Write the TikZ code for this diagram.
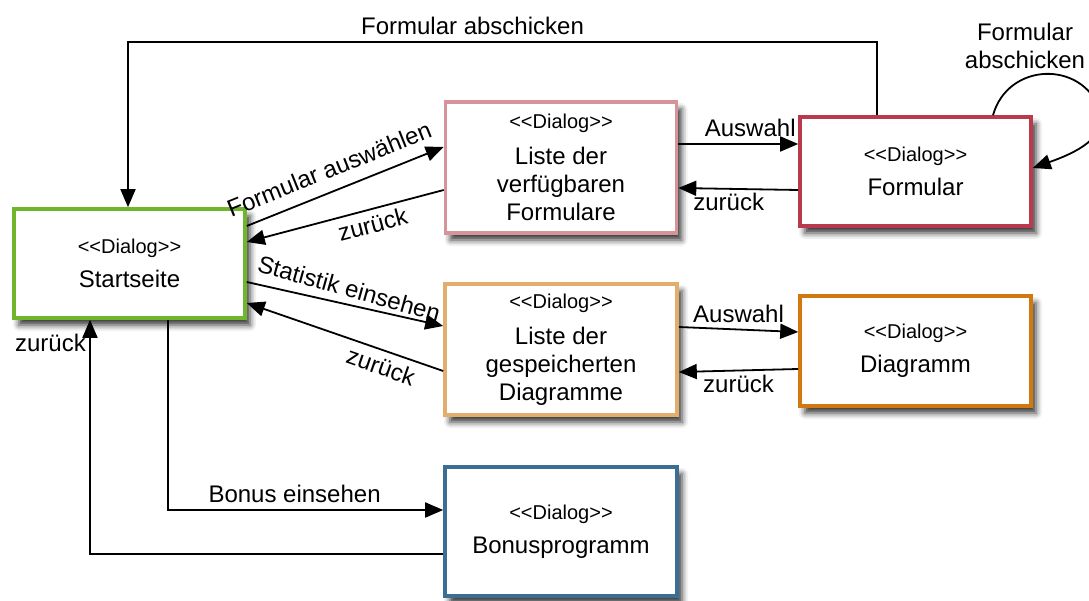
\documentclass[tikz,border=0pt]{standalone}
\usepackage{fontspec}
\setmainfont{Liberation Sans}
\usetikzlibrary{arrows.meta,shadows.blur}

\definecolor{cStart}{HTML}{70B62C}
\definecolor{cListF}{HTML}{D6939A}
\definecolor{cForm}{HTML}{B93A4C}
\definecolor{cListD}{HTML}{E2AE6E}
\definecolor{cDiag}{HTML}{D1780E}
\definecolor{cBonus}{HTML}{3B6E92}

\newcommand\dialogtag{{\fontsize{20}{24}\selectfont <{}<Dialog>{}>}}

\begin{document}
\begin{tikzpicture}[x=1pt,y=-1pt,
  every node/.style={font=\fontsize{24}{28}\selectfont},
  dlgbox/.style={draw, line width=3.6pt, fill=white, align=center, inner sep=0pt,
    minimum width=231pt, minimum height=109pt,
    blur shadow={shadow xshift=5pt, shadow yshift=-7pt, shadow blur radius=6pt, shadow opacity=80}},
  conn/.style={line width=1.8pt, -{Triangle[length=18pt,width=15pt]}},
  up/.style={above=3pt},
]
\useasboundingbox (0,0) rectangle (1089,601);

% dialog boxes
\node[dlgbox, draw=cStart] (start) at (129.5,263.5) {\dialogtag\\[6pt]Startseite};
\node[dlgbox, draw=cListF, minimum height=131pt] (listf) at (561,167.5)
  {\dialogtag\\[8pt]Liste der\\verfügbaren\\Formulare};
\node[dlgbox, draw=cForm] (form) at (915.5,171.5) {\dialogtag\\[6pt]Formular};
\node[dlgbox, draw=cListD, minimum height=131pt, minimum width=232pt] (listd) at (561,349.5)
  {\dialogtag\\[8pt]Liste der\\gespeicherten\\Diagramme};
\node[dlgbox, draw=cDiag, minimum height=110pt] (diag) at (915.5,351) {\dialogtag\\[6pt]Diagramm};
\node[dlgbox, draw=cBonus, minimum height=129pt, minimum width=232pt] (bonus) at (561,531.5)
  {\dialogtag\\[6pt]Bonusprogramm};

% submit form: back to the start page
\coordinate (topleft) at (128,42);
\draw[conn] ([xshift=-38.5pt]form.north) |- node[up, pos=0.77] {Formular abschicken} (topleft)
  -- ([xshift=-1.5pt]start.north);

% submit form: stay on the form
\draw[conn] ([xshift=77.5pt]form.north) .. controls (1008,62) and (1082,60) .. (1100,110)
  .. controls (1108,138) and (1075,153) .. ([yshift=3.5pt]form.east);
\node[align=center] (looplabel) at (1025,46) {Formular\\abschicken};

% start page <-> form list
\draw[conn] ([yshift=37.5pt]start.east) -- node[sloped, above=9pt, pos=0.46] {Formular auswählen}
  ([yshift=20.5pt]listf.west);
\draw[conn] ([yshift=-22.5pt]listf.west) -- node[sloped, below=2pt, pos=0.38] {zurück}
  ([yshift=21.5pt]start.east);

% start page <-> chart list
\draw[conn] ([yshift=-18.5pt]start.east) -- node[sloped, above=3pt, pos=0.5, rotate=-3] {Statistik einsehen}
  ([yshift=23.5pt]listd.west);
\draw[conn] ([yshift=-21.5pt]listd.west) -- node[sloped, below=3pt, pos=0.29] {zurück}
  ([yshift=-39.5pt]start.east);

% form list <-> form
\draw[conn] ([yshift=23.5pt]listf.east) -- node[up, pos=0.6] {Auswahl} ([yshift=27.5pt]form.west);
\draw[conn] ([yshift=-18.5pt]form.west) -- node[below, pos=0.58] {zurück} ([yshift=-20.5pt]listf.east);

% chart list <-> chart
\draw[conn] ([yshift=22.5pt]listd.east) -- node[up, pos=0.5] {Auswahl} ([yshift=19pt]diag.west);
\draw[conn] ([yshift=-18pt]diag.west) -- node[below, pos=0.5] {zurück} ([yshift=-22.5pt]listd.east);

% start page <-> bonus programme
\draw[conn] ([xshift=38.5pt]start.south) |- node[up, pos=0.73] {Bonus einsehen}
  ([yshift=21.5pt]bonus.west);
\draw[conn] ([yshift=-22.5pt]bonus.west) -| node[left, pos=0.95] {zurück}
  ([xshift=-39.5pt]start.south);
\end{tikzpicture}
\end{document}
